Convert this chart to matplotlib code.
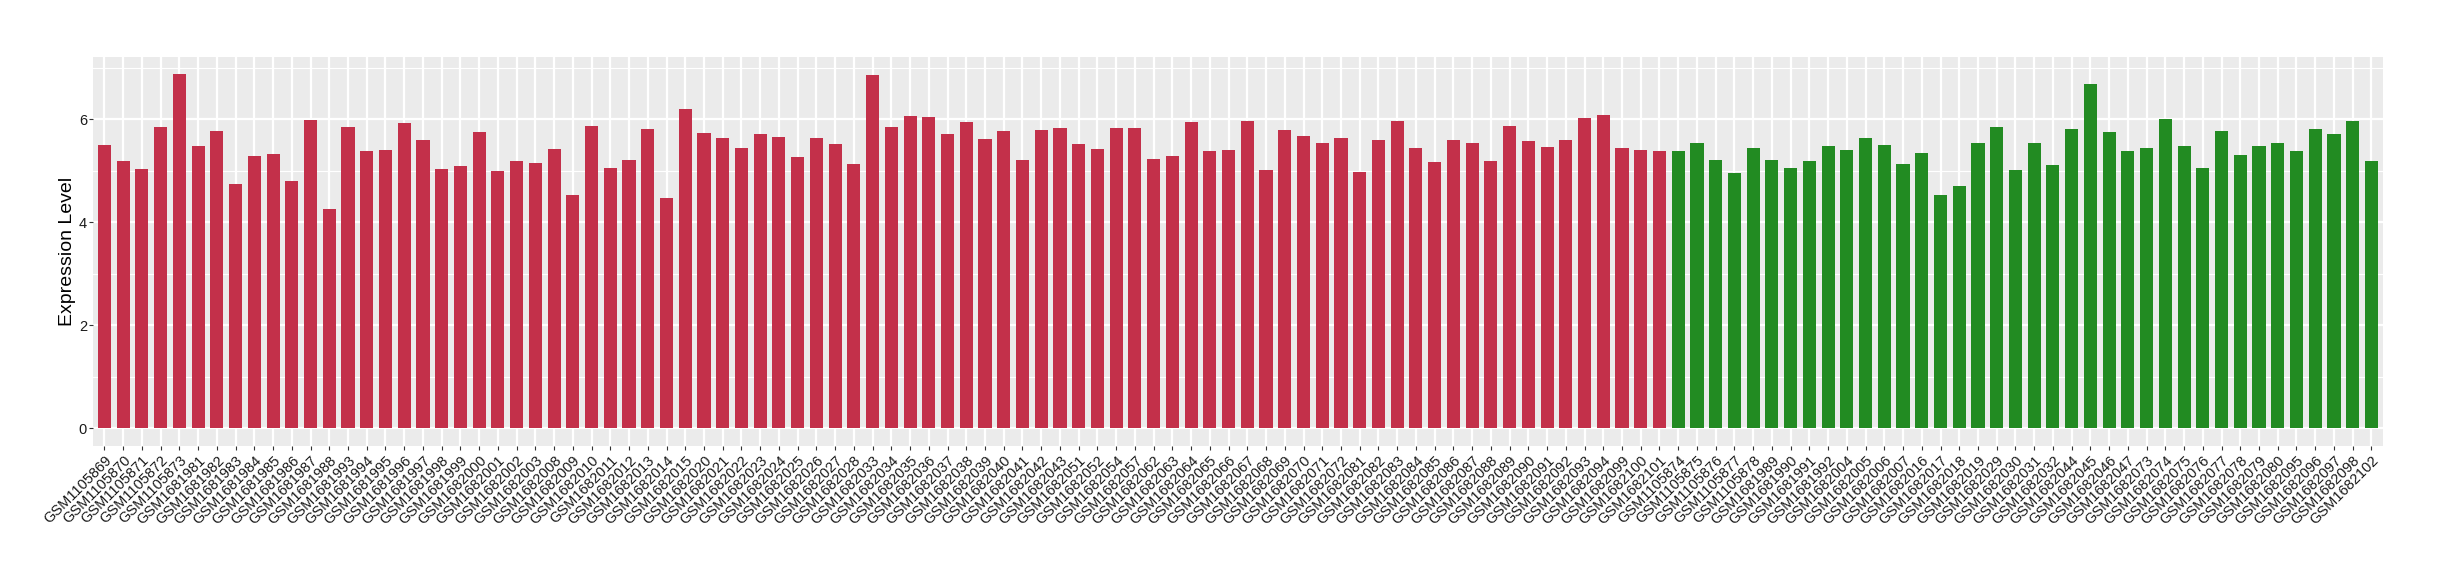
import matplotlib
matplotlib.use("Agg")
import matplotlib.pyplot as plt
import numpy as np

plt.rcParams['font.family'] = ['Liberation Sans', 'DejaVu Sans']

# sample names (tumour group first, then normal group)
red_samples = [
    "GSM1105869", "GSM1105870", "GSM1105871", "GSM1105872", "GSM1105873",
    "GSM1681981", "GSM1681982", "GSM1681983", "GSM1681984", "GSM1681985",
    "GSM1681986", "GSM1681987", "GSM1681988", "GSM1681993", "GSM1681994",
    "GSM1681995", "GSM1681996", "GSM1681997", "GSM1681998", "GSM1681999",
    "GSM1682000", "GSM1682001", "GSM1682002", "GSM1682003", "GSM1682008",
    "GSM1682009", "GSM1682010", "GSM1682011", "GSM1682012", "GSM1682013",
    "GSM1682014", "GSM1682015", "GSM1682020", "GSM1682021", "GSM1682022",
    "GSM1682023", "GSM1682024", "GSM1682025", "GSM1682026", "GSM1682027",
    "GSM1682028", "GSM1682033", "GSM1682034", "GSM1682035", "GSM1682036",
    "GSM1682037", "GSM1682038", "GSM1682039", "GSM1682040", "GSM1682041",
    "GSM1682042", "GSM1682043", "GSM1682051", "GSM1682052", "GSM1682054",
    "GSM1682057", "GSM1682062", "GSM1682063", "GSM1682064", "GSM1682065",
    "GSM1682066", "GSM1682067", "GSM1682068", "GSM1682069", "GSM1682070",
    "GSM1682071", "GSM1682072", "GSM1682081", "GSM1682082", "GSM1682083",
    "GSM1682084", "GSM1682085", "GSM1682086", "GSM1682087", "GSM1682088",
    "GSM1682089", "GSM1682090", "GSM1682091", "GSM1682092", "GSM1682093",
    "GSM1682094", "GSM1682099", "GSM1682100", "GSM1682101",
]
red_values = [
    5.50, 5.19, 5.03, 5.85, 6.87, 5.48, 5.77, 4.74, 5.28, 5.32,
    4.80, 5.98, 4.26, 5.85, 5.38, 5.40, 5.92, 5.59, 5.03, 5.09,
    5.75, 4.99, 5.19, 5.15, 5.42, 4.53, 5.87, 5.05, 5.21, 5.81,
    4.47, 6.20, 5.73, 5.63, 5.44, 5.71, 5.65, 5.26, 5.63, 5.52,
    5.13, 6.85, 5.85, 6.06, 6.04, 5.71, 5.94, 5.61, 5.77, 5.21,
    5.79, 5.83, 5.52, 5.42, 5.83, 5.83, 5.23, 5.28, 5.94, 5.38,
    5.40, 5.96, 5.01, 5.79, 5.67, 5.54, 5.63, 4.97, 5.59, 5.96,
    5.44, 5.17, 5.59, 5.54, 5.19, 5.87, 5.57, 5.46, 5.59, 6.02,
    6.08, 5.44, 5.40, 5.38,
]

green_samples = [
    "GSM1105874", "GSM1105875", "GSM1105876", "GSM1105877", "GSM1105878",
    "GSM1681989", "GSM1681990", "GSM1681991", "GSM1681992", "GSM1682004",
    "GSM1682005", "GSM1682006", "GSM1682007", "GSM1682016", "GSM1682017",
    "GSM1682018", "GSM1682019", "GSM1682029", "GSM1682030", "GSM1682031",
    "GSM1682032", "GSM1682044", "GSM1682045", "GSM1682046", "GSM1682047",
    "GSM1682073", "GSM1682074", "GSM1682075", "GSM1682076", "GSM1682077",
    "GSM1682078", "GSM1682079", "GSM1682080", "GSM1682095", "GSM1682096",
    "GSM1682097", "GSM1682098", "GSM1682102",
]
green_values = [
    5.38, 5.54, 5.21, 4.95, 5.44, 5.21, 5.05, 5.19, 5.48, 5.40,
    5.63, 5.50, 5.13, 5.34, 4.53, 4.70, 5.54, 5.85, 5.01, 5.54,
    5.11, 5.81, 6.68, 5.75, 5.38, 5.44, 6.00, 5.48, 5.05, 5.77,
    5.30, 5.48, 5.54, 5.38, 5.81, 5.71, 5.96, 5.19,
]

red_col = "#C3304A"
green_col = "#228B22"

samples = red_samples + green_samples
values = red_values + green_values
colors = [red_col] * len(red_samples) + [green_col] * len(green_samples)
x = np.arange(len(samples))

fig = plt.figure(figsize=(24.4, 5.8), dpi=100)
ax = fig.add_axes([0.0382, 0.231, 0.9383, 0.6712])

ax.set_facecolor("#EBEBEB")
ax.bar(x, values, width=0.7, color=colors, zorder=3)

# ggplot-style grid
for yv in [1, 3, 5, 7]:
    ax.axhline(yv, color="white", lw=0.8, zorder=1)
for yv in [0, 2, 4, 6]:
    ax.axhline(yv, color="white", lw=1.6, zorder=1)
for xv in x:
    ax.axvline(xv, color="white", lw=1.6, zorder=1)

ymax = max(values)
ax.set_ylim(-0.05 * ymax, 1.05 * ymax)
ax.set_xlim(-0.6, len(samples) - 0.4)

ax.set_yticks([0, 2, 4, 6])
ax.set_xticks(x)
ax.set_xticklabels(samples, rotation=45, ha="right", rotation_mode="anchor")
ax.tick_params(axis="both", labelsize=10.5, colors="#333333", length=2.75,
               width=0.8)
ax.tick_params(axis="x", pad=2.5)
ax.tick_params(axis="y", pad=1.8)
for lab in ax.get_xticklabels() + ax.get_yticklabels():
    lab.set_color("#1A1A1A")

for s in ax.spines.values():
    s.set_visible(False)

ax.set_ylabel("Expression Level", fontsize=14, labelpad=2)

fig.savefig("out.png", dpi=100)
